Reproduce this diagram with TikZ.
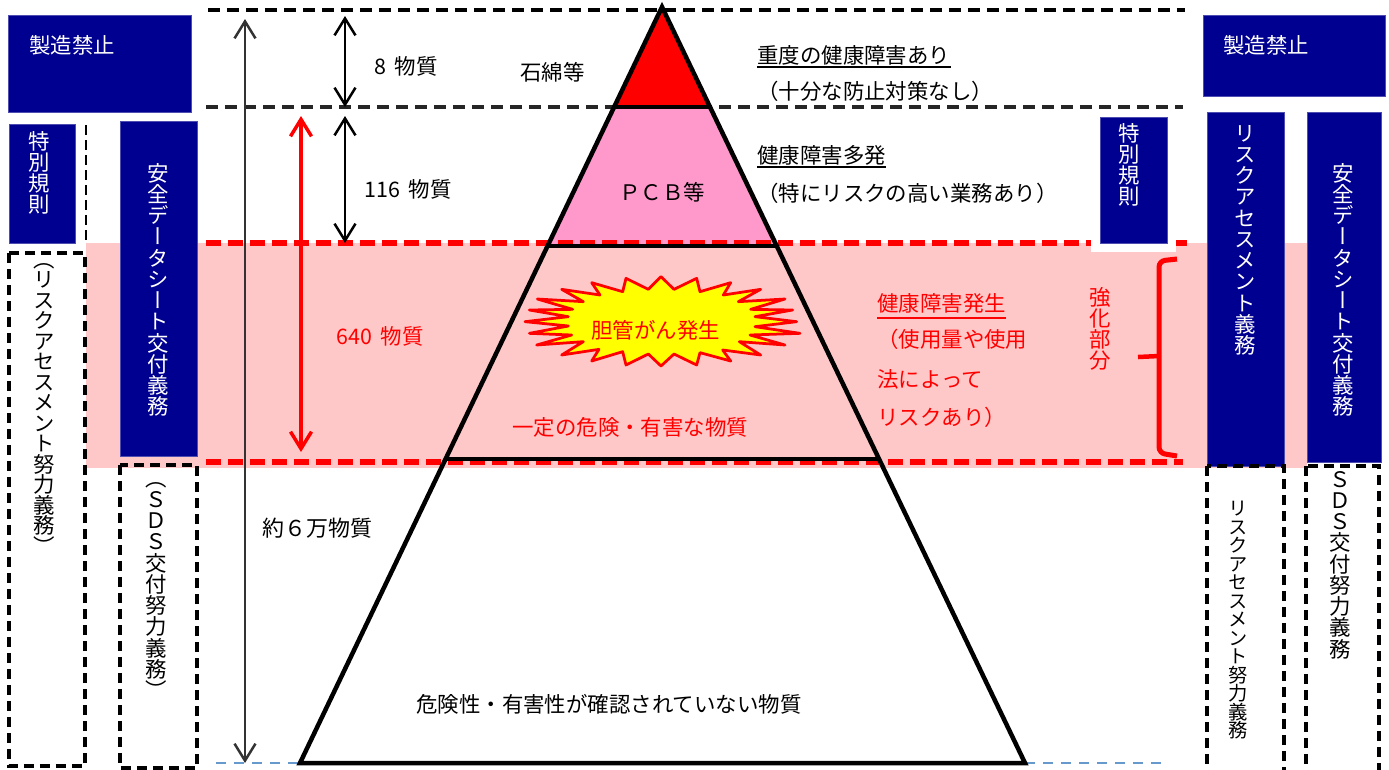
\documentclass[tikz,border=0pt]{standalone}
\usepackage{fontspec}
\setmainfont{Noto Sans CJK JP}
\newfontfamily\vfont[RawFeature=+vert]{Noto Sans CJK JP}
\usetikzlibrary{calc,arrows.meta}
\definecolor{boxnavy}{RGB}{0,0,144}
\definecolor{bandpink}{RGB}{255,200,200}
\definecolor{midpink}{RGB}{255,153,204}
\definecolor{baseblue}{RGB}{102,153,204}
\definecolor{burstfill}{RGB}{255,255,0}
\newdimen\vpitch
\def\vloop#1{\ifx#1\relax\else\hbox to 1em{\vrule width 0pt height .88\vpitch depth .12\vpitch\hss\smash{#1}\hss}\expandafter\vloop\fi}
\newcommand{\vtext}[2][0.425cm]{\vpitch=#1\vbox{\offinterlineskip\vfont\vloop#2\relax}}
\tikzset{
  lbl/.style={inner sep=0pt,text height=0.95em,text depth=0.05em,font=\fontsize{12.2}{12.2}\selectfont},
  wlbl/.style={lbl,anchor=west},
  vlbl/.style={inner sep=0pt,anchor=north,font=\fontsize{12.2}{12.2}\selectfont},
  navybox/.style={fill=boxnavy,draw=boxnavy!70!white,line width=0.02cm},
  dashbox/.style={draw=black,line width=0.07cm,dash pattern=on 0.2cm off 0.12cm},
  level/.style={line width=0.065cm,dash pattern=on 0.24cm off 0.14cm},
  redlevel/.style={draw=red,line width=0.11cm,dash pattern=on 0.3cm off 0.14cm},
  span/.style={line width=0.05cm,{Straight Barb[length=0.34cm,width=0.42cm]}-{Straight Barb[length=0.34cm,width=0.42cm]}},
  pyr/.style={line width=0.09cm,line join=miter},
  bracered/.style={draw=red,line width=0.1cm,rounded corners=0.12cm}
}
\begin{document}
\begin{tikzpicture}[x=0.02cm,y=-0.02cm]
\useasboundingbox (0,0) rectangle (1389,769);
% band
\fill[bandpink] (86,243) rectangle (1307,468);
% pyramid
\coordinate (apex) at (662,7);
\coordinate (l1) at (615,107);
\coordinate (r1) at (710,107);
\coordinate (l2) at (549,246);
\coordinate (r2) at (777,246);
\coordinate (l3) at (445,459);
\coordinate (r3) at (879,459);
\coordinate (l4) at (300,763);
\coordinate (r4) at (1025,763);
\fill[red] (apex) -- (l1) -- (r1) -- cycle;
\fill[midpink] (l1) -- (l2) -- (r2) -- (r1) -- cycle;
% levels
\draw[level] (208,10) -- (1185,10);
\draw[level,black!85] (206,107) -- (1183,107);
\draw[redlevel] (206,243) -- (1187,243);
\draw[redlevel] (206,462) -- (1183,462);
\draw[baseblue,line width=0.04cm,dash pattern=on 0.2cm off 0.16cm] (216,763) -- (l4);
\draw[baseblue,line width=0.04cm,dash pattern=on 0.2cm off 0.16cm] (r4) -- (1162,763);
\draw[pyr] (apex) -- (l4) -- (r4) -- cycle;
\draw[pyr] (l1) -- (r1);
\draw[pyr] (l2) -- (r2);
\draw[pyr] (l3) -- (r3);
% spans
\coordinate (a1) at (245,19);
\coordinate (a2) at (245,763);
\coordinate (b1) at (345,16);
\coordinate (b2) at (345,107);
\coordinate (c1) at (345,116);
\coordinate (c2) at (345,243);
\coordinate (d1) at (301,116);
\coordinate (d2) at (301,452);
\draw[span,black!80] (a1) -- (a2);
\draw[span] (b1) -- (b2);
\draw[span] (c1) -- (c2);
\draw[span,red,line width=0.07cm] (d1) -- (d2);
% left column
\draw[navybox] (8,15) rectangle (191,112);
\node[wlbl,text=white] (banl) at (29,46) {製造禁止};
\draw[navybox] (9,124) rectangle (75,243);
\node[vlbl,text=white] (ruleL) at (39,130) {\vtext{特別規則}};
\draw[black,line width=0.04cm,dash pattern=on 0.2cm off 0.1cm] (86,125) -- (86,243);
\draw[dashbox] (9,253) rectangle (85,766);
\node[vlbl] (raL) at (44,249) {\vtext[0.41cm]{（リスクアセスメント努力義務）}};
\draw[navybox] (120,121) rectangle (197,456);
\node[vlbl,text=white] (sdsL) at (158,162) {\vtext{安全データシート交付義務}};
\draw[dashbox] (120,465) rectangle (197,768);
\node[vlbl] (sdsdL) at (156,467) {\vtext{（ＳＤＳ交付努力義務）}};
% counts
\node[wlbl] (n8) at (374,67) {8\hspace{0.4em}物質};
\node[wlbl] (n116) at (364,190) {116\hspace{0.4em}物質};
\node[wlbl,text=red] (n640) at (336,337) {640\hspace{0.4em}物質};
\node[wlbl,font=\fontsize{12.5}{12.5}\selectfont] (n6) at (262,529) {約６万物質};
% inside pyramid
\node[wlbl] (ish) at (520,73) {石綿等};
\node[wlbl] (pcb) at (619,193) {ＰＣＢ等};
\begin{scope}[shift={(500,250)},x=0.00667cm,y=-0.00667cm]
\draw[fill=burstfill,draw=red,line width=0.055cm,line join=round]
  (483,80) -- (522,118) -- (590,85) -- (600,125) -- (692,98) -- (670,135) -- (782,118) -- (715,155)
  -- (855,147) -- (752,178) -- (878,180) -- (765,200) -- (890,215) -- (765,230) -- (900,250) -- (750,255)
  -- (855,285) -- (718,275) -- (782,315) -- (668,300) -- (692,333) -- (600,308) -- (590,345) -- (522,312)
  -- (483,348) -- (445,312) -- (378,345) -- (368,305) -- (275,333) -- (297,298) -- (185,315) -- (250,275)
  -- (110,285) -- (215,255) -- (88,250) -- (205,228) -- (75,215) -- (205,200) -- (88,180) -- (218,178)
  -- (112,147) -- (250,155) -- (185,118) -- (300,135) -- (275,98) -- (368,125) -- (378,85) -- (445,118) -- cycle;
\end{scope}
\node[wlbl,text=red] (bile) at (591,331) {胆管がん発生};
\node[wlbl,text=red] (ctn) at (512,428) {一定の危険・有害な物質};
\node[wlbl] (unk) at (416,705) {危険性・有害性が確認されていない物質};
% right notes
\node[wlbl] (h1) at (757,56) {重度の健康障害あり};
\draw[line width=0.04cm] ([yshift=-1pt]h1.south west) -- ([yshift=-1pt]h1.south east);
\node[wlbl] (h1b) at (757,92) {（十分な防止対策なし）};
\node[wlbl] (h2) at (757,156) {健康障害多発};
\draw[line width=0.04cm] ([yshift=-1pt]h2.south west) -- ([yshift=-1pt]h2.south east);
\node[wlbl] (h2b) at (757,194) {（特にリスクの高い業務あり）};
\node[wlbl,text=red] (h3) at (877,304) {健康障害発生};
\draw[red,line width=0.04cm] ([yshift=-3pt]h3.south west) -- ([yshift=-3pt]h3.south east);
\node[wlbl,text=red] (h3b) at (877,340) {（使用量や使用};
\node[wlbl,text=red] (h3c) at (877,380) {法によって};
\node[wlbl,text=red] (h3d) at (877,418) {リスクあり）};
\node[vlbl,text=red] (kyo) at (1100,286) {\vtext{強化部分}};
\draw[bracered] (1177,259) -- (1159,261) -- (1159,357);
\draw[bracered] (1177,456) -- (1159,453) -- (1159,357);
\draw[red,line width=0.09cm] (1159,356) -- (1138,357);
% right column
\fill[white] (1091,240) rectangle (1176,252);
\draw[navybox] (1100,117) rectangle (1167,243);
\node[vlbl,text=white] (ruleR) at (1129,122) {\vtext{特別規則}};
\draw[navybox] (1203,15) rectangle (1385,96);
\node[wlbl,text=white] (banr) at (1223,46) {製造禁止};
\draw[navybox] (1207,112) rectangle (1284,466);
\node[vlbl,text=white] (raR) at (1245,122) {\vtext{リスクアセスメント義務}};
\draw[navybox] (1307,112) rectangle (1381,462);
\node[vlbl,text=white] (sdsR) at (1343,162) {\vtext{安全データシート交付義務}};
\draw[dashbox] (1207,466) rectangle (1284,775);
\node[vlbl,font=\fontsize{11}{11}\selectfont] (radR) at (1238,499) {\vtext[0.37cm]{リスクアセスメント努力義務}};
\draw[dashbox] (1306,466) rectangle (1379,775);
\node[vlbl] (sdsdR) at (1340,468) {\vtext{ＳＤＳ交付努力義務}};
\end{tikzpicture}
\end{document}
